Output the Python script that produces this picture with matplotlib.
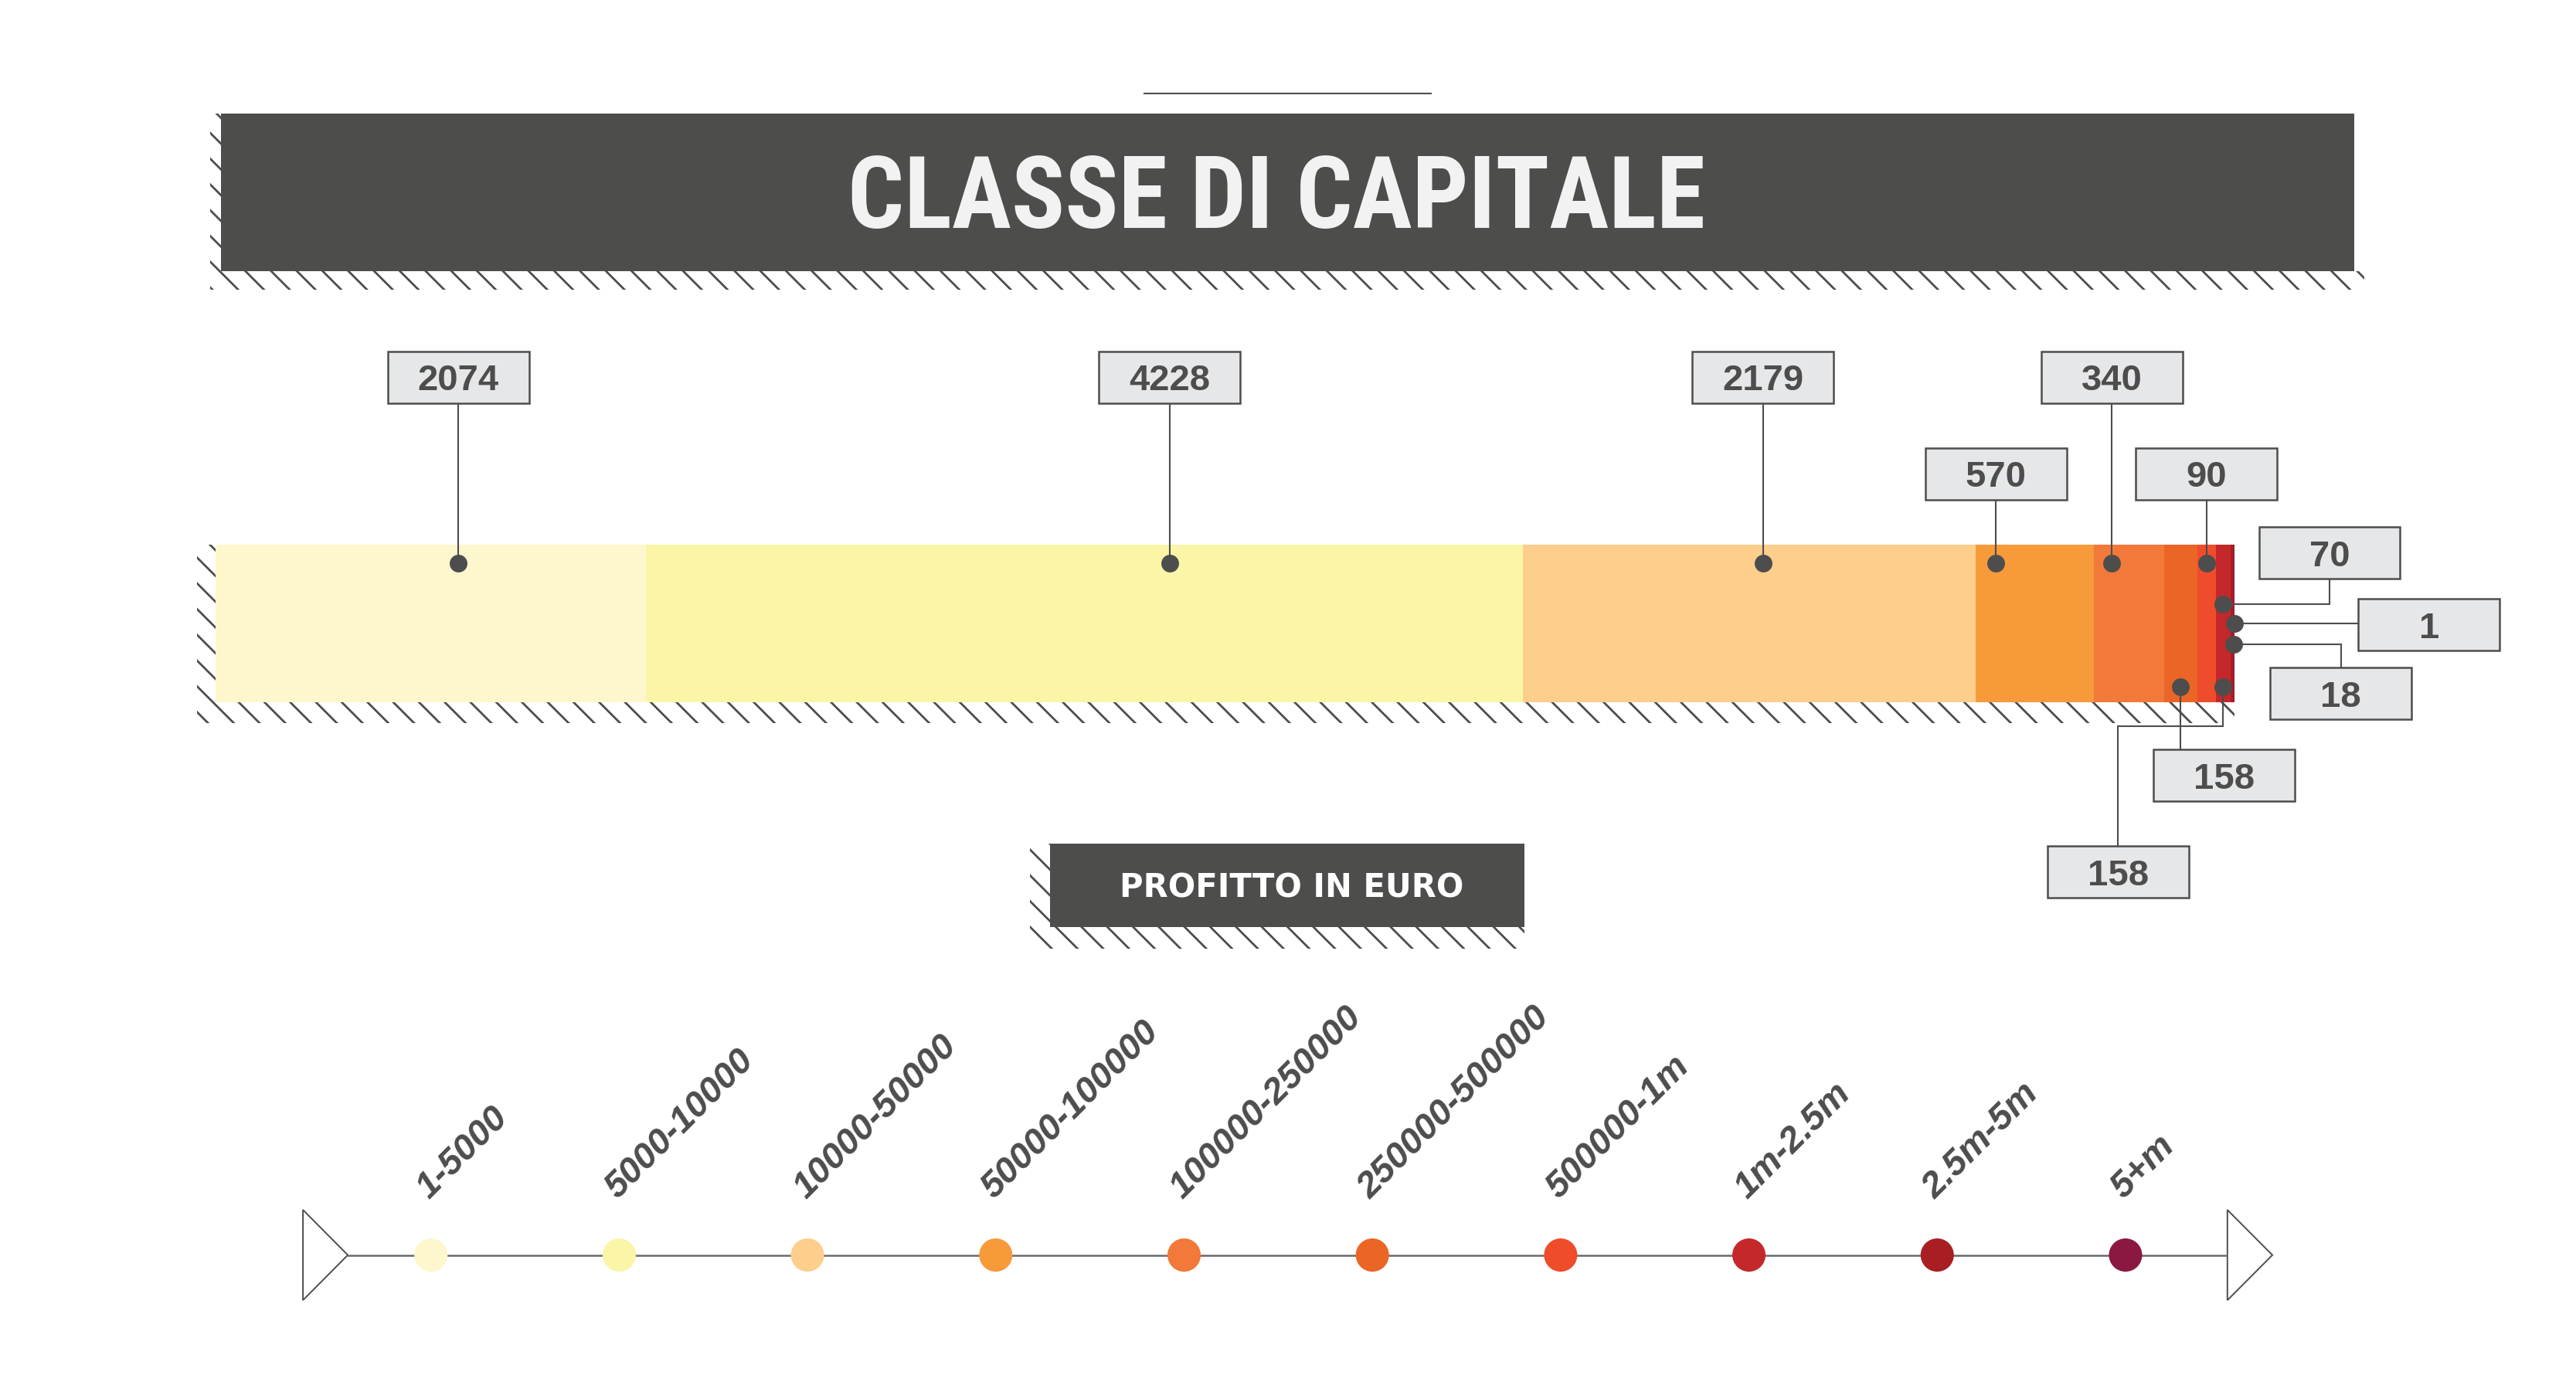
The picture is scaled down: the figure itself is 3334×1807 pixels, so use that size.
import numpy as np
import matplotlib.pyplot as plt
from matplotlib.patches import Rectangle, Polygon
from matplotlib import font_manager

# --- data ---
classes = ["1-5000", "5000-10000", "10000-50000", "50000-100000", "100000-250000",
           "250000-500000", "500000-1m", "1m-2.5m", "2.5m-5m", "5+m"]
counts = [2074, 4228, 2179, 570, 340, 158, 90, 70, 18, 1]
colors = ["#FEF7CD", "#FBF5A7", "#FDCE8C", "#F79A3A", "#F27939",
          "#EB6526", "#EE4C2B", "#C4282A", "#A81E22", "#8B1840"]

# callouts: text, segment it points into, position along that segment, dot height in bar
callout_text = ["2074", "4228", "2179", "570", "340", "90", "70", "1", "18", "158", "158"]
callout_seg = [0, 1, 2, 3, 4, 6, 7, 9, 8, 5, 7]
callout_pos = [0.565, 0.597, 0.53, 0.174, 0.258, 0.53, 0.5, 1.0, 1.0, 0.5, 0.5]
callout_h = [0.88, 0.88, 0.88, 0.88, 0.88, 0.88, 0.62, 0.5, 0.37, 0.1, 0.1]

# --- layout (units of a 1568 wide canvas) ---
W = 1568.0
H = 1808 * W / 3334
GREY = "#4D4D4D"
DARK = "#4D4D4B"
BOXFILL = "#E6E7E8"

box_xy = [(279, 230), (712, 230), (1073, 230), (1215, 288.8), (1285.6, 230),
          (1343, 288.8), (1418, 337), (1478.6, 380.8), (1424.8, 422.7),
          (1353.8, 472.4), (1289.2, 531.4)]
routes = ["v", "v", "v", "v", "v", "v", "hv", "h", "hv", "v", "vhv"]
BW, BH = 86, 31.5

plt.rcParams["hatch.linewidth"] = 2.0

fig = plt.figure(figsize=(33.34, 18.08), dpi=100)
fig.patch.set_facecolor("white")

ax = fig.add_axes([0, 0, 1, 1])
ax.set_xlim(0, W)
ax.set_ylim(H, 0)
ax.axis("off")
ax.patch.set_visible(False)
ax.set_zorder(2)


def shadow(x0, y0, x1, y1, dx, dy, extra=0):
    # hatched L-shaped shadow on the left and below a box
    kw = dict(facecolor="white", edgecolor=GREY, hatch="\\", lw=0, zorder=1)
    ax.add_patch(Rectangle((x0 - dx, y0), dx, y1 - y0, **kw))
    ax.add_patch(Rectangle((x0 - dx, y1), x1 - x0 + dx + extra, dy, **kw))


# title
ax.plot([696.6, 871], [57.5, 57.5], color=GREY, lw=1.5)
shadow(134.5, 69.8, 1433, 165.4, 6.5, 11.5, extra=6)
ax.add_patch(Rectangle((134.5, 69.8), 1433 - 134.5, 165.4 - 69.8, fc=DARK, lw=0, zorder=2))

title_family = "DejaVu Sans"
for fam in ["Liberation Sans Narrow", "Roboto Condensed", "DejaVu Sans Condensed"]:
    try:
        font_manager.findfont(font_manager.FontProperties(family=fam, weight="bold"),
                              fallback_to_default=False)
        title_family = fam
        break
    except ValueError:
        pass

title = ax.text(777, 138.7, "CLASSE DI CAPITALE", color="#F2F2F2", fontsize=90,
                fontweight="bold", family=title_family, ha="center", va="baseline", zorder=3)
renderer = fig.canvas.get_renderer()
tw = title.get_window_extent(renderer).width
title.set_fontsize(90 * 1110 / tw)

# stacked bar
bar_x0, bar_x1, bar_top, bar_bot = 131, 1360, 332, 428
shadow(bar_x0, bar_top, bar_x1, bar_bot, 11.3, 12.7)

bx = fig.add_axes([bar_x0 / W, 1 - bar_bot / H, (bar_x1 - bar_x0) / W, (bar_bot - bar_top) / H])
bx.set_zorder(1)
total = sum(counts)
starts = np.concatenate([[0], np.cumsum(counts)[:-1]])
bx.barh(0.5, counts, left=starts, height=1, color=colors, lw=0)
bx.set_xlim(0, total)
bx.set_ylim(0, 1)
bx.axis("off")


def to_main(x, y):
    return ax.transData.inverted().transform(bx.transData.transform((x, y)))


for i, txt in enumerate(callout_text):
    s = callout_seg[i]
    xv = starts[s] + callout_pos[i] * counts[s]
    yv = callout_h[i]
    bx.plot(xv, yv, "o", ms=16.5, color=GREY, mec="none", clip_on=False, zorder=5)
    dx, dy = to_main(xv, yv)
    cx, cy = box_xy[i]
    r = routes[i]
    if r == "v":
        edge = cy + BH / 2 if cy < dy else cy - BH / 2
        pts = [(dx, dy), (dx, edge)]
    elif r == "hv":
        edge = cy + BH / 2 if cy < dy else cy - BH / 2
        pts = [(dx, dy), (cx, dy), (cx, edge)]
    elif r == "h":
        pts = [(dx, dy), (cx - BW / 2, dy)]
    else:
        pts = [(dx, dy), (dx, 442.7), (cx, 442.7), (cx, cy - BH / 2)]
    xs, ys = zip(*pts)
    ax.plot(xs, ys, color=GREY, lw=1.5, zorder=3, solid_joinstyle="miter")
    ax.add_patch(Rectangle((cx - BW / 2, cy - BH / 2), BW, BH, fc=BOXFILL, ec=GREY, lw=1.8, zorder=4))
    ax.text(cx, cy + 7.6, txt, color=GREY, fontsize=34, fontweight="bold",
            family=["Liberation Sans", "DejaVu Sans"], ha="center", va="baseline", zorder=5)

# legend title box
shadow(639, 514.2, 928, 564.8, 12.1, 13.2)
ax.add_patch(Rectangle((639, 514.2), 928 - 639, 564.8 - 514.2, fc=DARK, lw=0, zorder=2))
ax.text(786, 546.4, "PROFITTO IN EURO", color="white", fontsize=30, fontweight="bold",
        family="DejaVu Sans", ha="center", va="baseline", zorder=3)

# legend axis with arrows
leg_y = 764.5
ax.add_patch(Polygon([(184.4, 737), (184.4, 792), (211.7, leg_y)], closed=True,
                     fc="white", ec=GREY, lw=1.4, zorder=3))
ax.add_patch(Polygon([(1355.8, 737), (1355.8, 792), (1383.2, leg_y)], closed=True,
                     fc="white", ec=GREY, lw=1.4, zorder=3))

lx = fig.add_axes([211.7 / W, 1 - (leg_y + 30) / H, (1355.8 - 211.7) / W, 60 / H])
lx.set_zorder(3)
lx.patch.set_visible(False)
lx.set_xlim(-0.4415, 9.541)
lx.set_ylim(-1, 1)
lx.axis("off")
lx.plot(lx.get_xlim(), [0, 0], color="#6A6A6A", lw=1.8, zorder=1)
lx.scatter(range(len(classes)), np.zeros(len(classes)), s=31 ** 2, c=colors,
           edgecolors="none", zorder=2, clip_on=False)
for i, lab in enumerate(classes):
    lx.annotate(lab, (i, 0), xytext=(-1.5, 52), textcoords="offset points",
                rotation=45, rotation_mode="anchor", ha="left", va="baseline",
                color=GREY, fontsize=34, fontweight="bold", fontstyle="italic",
                family=["Liberation Sans", "DejaVu Sans"], annotation_clip=False)

fig.savefig("out.png", dpi=100, facecolor="white")
